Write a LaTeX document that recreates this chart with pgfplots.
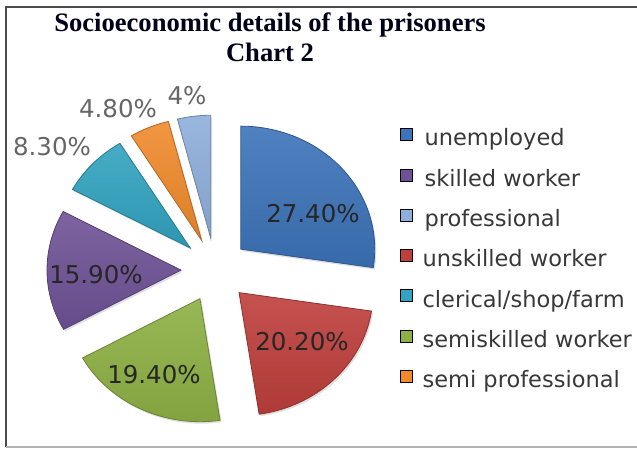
\documentclass[border=0pt]{standalone}
\usepackage{pgfplots}
\usepackage{pgfplotstable}
\pgfplotsset{compat=1.18}
\usetikzlibrary{shadows}
\usepackage{fontspec}
\setmainfont{Liberation Serif}
\newfontfamily\dv{DejaVu Sans}

\definecolor{cUnemp}{HTML}{3C73B9}
\definecolor{cUnsk}{HTML}{BE3F3B}
\definecolor{cSemi}{HTML}{8CB043}
\definecolor{cSkill}{HTML}{6F5296}
\definecolor{cCler}{HTML}{32A3C0}
\definecolor{cSemiPro}{HTML}{F08A2C}
\definecolor{cProf}{HTML}{8EAEDB}

% slices clockwise from 12 o'clock; lx, ly = label centre (picture px, y down)
\pgfplotstableread[col sep=comma]{
name,value,col,lx,ly,lcol
unemployed,27.4,cUnemp,313,214,black!85
unskilled worker,20.2,cUnsk,302,342,black!85
semiskilled worker,19.4,cSemi,154,375,black!85
skilled worker,15.9,cSkill,96,275,black!85
clerical/shop/farm,8.3,cCler,52,147,black!60
semi professional,4.8,cSemiPro,118,109,black!60
professional,4,cProf,187,96,black!60
}\slicedata

\begin{document}
\begin{tikzpicture}
% centre, radii and explode distance in picture px
\def\ox{215}\def\oy{178}\def\rx{134}\def\ry{123}\def\ex{34}\def\ey{32}
\gdef\slicecmds{}
\gdef\cum{90}
\pgfplotstablegetrowsof{\slicedata}
\pgfmathtruncatemacro\nrows{\pgfplotsretval-1}
\pgfplotsforeachungrouped \i in {0,...,\nrows}{%
  \pgfplotstablegetelem{\i}{value}\of\slicedata \let\v\pgfplotsretval
  \pgfplotstablegetelem{\i}{col}\of\slicedata \let\c\pgfplotsretval
  \pgfplotstablegetelem{\i}{lx}\of\slicedata \let\lx\pgfplotsretval
  \pgfplotstablegetelem{\i}{ly}\of\slicedata \let\ly\pgfplotsretval
  \pgfplotstablegetelem{\i}{lcol}\of\slicedata \let\lc\pgfplotsretval
  \pgfmathsetmacro\a{\cum}%
  \pgfmathsetmacro\b{\cum-3.6*\v}%
  \pgfmathsetmacro\m{(\a+\b)/2}%
  \pgfmathsetmacro\cx{\ox+\ex*cos(\m)}%
  \pgfmathsetmacro\cy{\oy+\ey*sin(\m)}%
  \pgfmathsetmacro\px{\cx+\rx*cos(\a)}%
  \pgfmathsetmacro\py{\cy+\ry*sin(\a)}%
  \pgfmathsetmacro\lyy{448-\ly}%
  \pgfmathprintnumberto[fixed,fixed zerofill,precision=2,assume math mode=true]{\v}\vtxt
  \xdef\slicecmds{\unexpanded\expandafter{\slicecmds}%
    \noexpand\shadedraw[top color=\c!90!white,bottom color=\c!92!black,draw=\c!75!black,line width=0.8pt,
      drop shadow={opacity=0.25,shadow xshift=1.5pt,shadow yshift=-2pt}]
      (axis cs:\cx,\cy) -- (axis cs:\px,\py)
      arc[start angle=\a,end angle=\b,x radius=\rx pt,y radius=\ry pt] -- cycle;
    \noexpand\node[text=\lc,font=\noexpand\dv\noexpand\fontsize{24.5}{28}\noexpand\selectfont]
      at (axis cs:\lx,\lyy) {\ifdim\v pt=4pt 4\noexpand\%\else\vtxt\noexpand\%\fi};}%
  \xdef\cum{\b}%
}
\begin{axis}[
  x=1pt,y=1pt,
  xmin=0,xmax=637,ymin=0,ymax=448,
  hide axis,clip=false,
  legend cell align=left,
  legend image code/.code={\fill[#1] (0pt,0pt) rectangle (12pt,12pt);},
  legend style={at={(axis cs:400,320)},anchor=north west,draw=none,fill=none,
    font=\dv\fontsize{22.5}{26}\selectfont,text=black!78,
    row sep=17.6pt,column sep=0pt,inner sep=0pt,
    nodes={inner sep=0pt,text height=16pt,text depth=5pt}},
]
\path[use as bounding box] (axis cs:0,0) rectangle (axis cs:637,448);
\draw[black!70,line width=2.5pt] (axis cs:6,1) -- (axis cs:6,441) -- (axis cs:637,441);
\draw[black!30,line width=1.5pt] (axis cs:6,1) -- (axis cs:637,1);

\slicecmds

\node[font=\bfseries\fontsize{26.6}{30}\selectfont,text=black!90!blue,anchor=base] at (axis cs:270,416) {Socioeconomic details of the prisoners};
\node[font=\bfseries\fontsize{26.6}{30}\selectfont,text=black!90!blue,anchor=base] at (axis cs:270,386) {Chart 2};

\addlegendimage{fill=cUnemp}\addlegendentry{\hspace{12pt}unemployed}
\addlegendimage{fill=cSkill}\addlegendentry{\hspace{12pt}skilled worker}
\addlegendimage{fill=cProf}\addlegendentry{\hspace{12pt}professional}
\addlegendimage{fill=cUnsk}\addlegendentry{\hspace{10pt}unskilled worker}
\addlegendimage{fill=cCler}\addlegendentry{\hspace{10pt}clerical/shop/farm}
\addlegendimage{fill=cSemi}\addlegendentry{\hspace{10pt}semiskilled worker}
\addlegendimage{fill=cSemiPro}\addlegendentry{\hspace{10pt}semi professional}
\end{axis}
\end{tikzpicture}
\end{document}
